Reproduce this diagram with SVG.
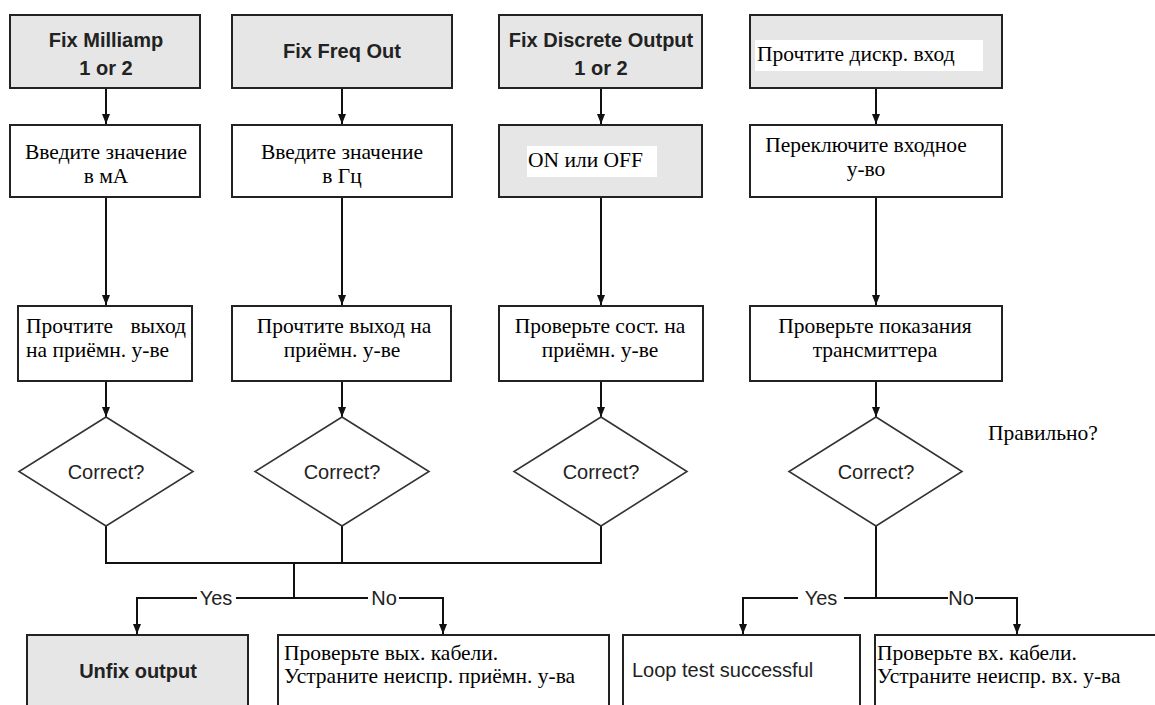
<svg xmlns="http://www.w3.org/2000/svg" width="1155" height="705" viewBox="0 0 1155 705">
<defs>
<style>
.box{fill:#fff;stroke:#222;stroke-width:2}
.gray{fill:#e6e6e6}
.wbg{fill:#fff;stroke:none}
.dia{fill:#fff;stroke:#333;stroke-width:1.6}
.ln{stroke:#111;stroke-width:2;fill:none}
.arr{marker-end:url(#ah)}
.sb{font-family:"Liberation Sans",Arial,sans-serif;font-weight:bold;font-size:20px;fill:#222}
.s{font-family:"Liberation Sans",Arial,sans-serif;font-size:20px;fill:#222}
.t{font-family:"Liberation Serif","Times New Roman",serif;font-size:21.5px;fill:#000}
.c{text-anchor:middle}
</style>
<marker id="ah" viewBox="0 0 10 8" refX="10" refY="4" markerWidth="10" markerHeight="8" markerUnits="userSpaceOnUse" orient="auto">
<path d="M0,0 L10,4 L0,8 z" fill="#111"/>
</marker>
</defs>
<rect width="1155" height="705" fill="#fff"/>

<g id="connectors">
<line class="ln arr" x1="106" y1="88" x2="106" y2="124"/>
<line class="ln arr" x1="342" y1="88" x2="342" y2="124"/>
<line class="ln arr" x1="601" y1="88" x2="601" y2="124"/>
<line class="ln arr" x1="876" y1="88" x2="876" y2="124"/>
<line class="ln arr" x1="106" y1="197" x2="106" y2="305"/>
<line class="ln arr" x1="342" y1="197" x2="342" y2="305"/>
<line class="ln arr" x1="601" y1="197" x2="601" y2="305"/>
<line class="ln arr" x1="876" y1="197" x2="876" y2="305"/>
<line class="ln arr" x1="106" y1="381" x2="106" y2="417"/>
<line class="ln arr" x1="342" y1="381" x2="342" y2="417"/>
<line class="ln arr" x1="601" y1="381" x2="601" y2="417"/>
<line class="ln arr" x1="876" y1="381" x2="876" y2="417"/>
<polyline class="ln" points="106,526 106,563 601,563 601,526"/>
<line class="ln" x1="342" y1="526" x2="342" y2="563"/>
<line class="ln" x1="294" y1="563" x2="294" y2="598"/>
<polyline class="ln arr" points="197,598 137,598 137,634"/>
<line class="ln" x1="236" y1="598" x2="368" y2="598"/>
<polyline class="ln arr" points="399,598 443,598 443,634"/>
<line class="ln" x1="876" y1="526" x2="876" y2="598"/>
<polyline class="ln arr" points="798,598 743,598 743,634"/>
<line class="ln" x1="844" y1="598" x2="948" y2="598"/>
<polyline class="ln arr" points="975,598 1017,598 1017,634"/>
<text class="s c" x="216" y="605">Yes</text>
<text class="s c" x="384" y="605">No</text>
<text class="s c" x="821" y="605">Yes</text>
<text class="s c" x="961" y="605">No</text>
</g>

<g id="n-fix-ma">
<rect class="box gray" x="10" y="15" width="190" height="73"/>
<text class="sb c" x="106" y="47">Fix Milliamp</text>
<text class="sb c" x="106" y="75">1 or 2</text>
</g>
<g id="n-fix-freq">
<rect class="box gray" x="232" y="15" width="220" height="73"/>
<text class="sb c" x="342" y="58">Fix Freq Out</text>
</g>
<g id="n-fix-disc">
<rect class="box gray" x="499" y="15" width="203" height="73"/>
<text class="sb c" x="601" y="47">Fix Discrete Output</text>
<text class="sb c" x="601" y="75">1 or 2</text>
</g>
<g id="n-read-din">
<rect class="box gray" x="750" y="15" width="252" height="73"/>
<rect class="wbg" x="755" y="40" width="228" height="31"/>
<text class="t" x="757" y="61">Прочтите дискр. вход</text>
</g>

<g id="n-enter-ma">
<rect class="box" x="10" y="125" width="190" height="72"/>
<text class="t c" x="106" y="159">Введите значение</text>
<text class="t c" x="106" y="183">в мА</text>
</g>
<g id="n-enter-hz">
<rect class="box" x="232" y="125" width="220" height="72"/>
<text class="t c" x="342" y="159">Введите значение</text>
<text class="t c" x="342" y="183">в Гц</text>
</g>
<g id="n-onoff">
<rect class="box gray" x="499" y="125" width="203" height="72"/>
<rect class="wbg" x="527" y="146" width="130" height="31"/>
<text class="t" x="528" y="167">ON или OFF</text>
</g>
<g id="n-toggle">
<rect class="box" x="750" y="125" width="252" height="72"/>
<text class="t c" x="866" y="152">Переключите входное</text>
<text class="t c" x="866" y="176">у-во</text>
</g>

<g id="n-read-out-ma">
<rect class="box" x="18" y="306" width="174" height="75"/>
<text class="t" x="26" y="333">Прочтите</text>
<text class="t" x="186" y="333" text-anchor="end">выход</text>
<text class="t" x="26" y="357">на приёмн. у-ве</text>
</g>
<g id="n-read-out-hz">
<rect class="box" x="232" y="306" width="219" height="75"/>
<text class="t c" x="344" y="333">Прочтите выход на</text>
<text class="t c" x="342" y="357">приёмн. у-ве</text>
</g>
<g id="n-check-state">
<rect class="box" x="499" y="306" width="204" height="75"/>
<text class="t c" x="600" y="333">Проверьте сост. на</text>
<text class="t c" x="600" y="357">приёмн. у-ве</text>
</g>
<g id="n-check-tx">
<rect class="box" x="750" y="306" width="252" height="75"/>
<text class="t c" x="875" y="333">Проверьте показания</text>
<text class="t c" x="875" y="357">трансмиттера</text>
</g>

<g id="d1">
<polygon class="dia" points="106,417 193,471.5 106,526 19,471.5"/>
<text class="s c" x="106" y="479">Correct?</text>
</g>
<g id="d2">
<polygon class="dia" points="342,417 429,471.5 342,526 255,471.5"/>
<text class="s c" x="342" y="479">Correct?</text>
</g>
<g id="d3">
<polygon class="dia" points="601,417 687,471.5 601,526 514,471.5"/>
<text class="s c" x="601" y="479">Correct?</text>
</g>
<g id="d4">
<polygon class="dia" points="876,417 962,471.5 876,526 789,471.5"/>
<text class="s c" x="876" y="479">Correct?</text>
</g>
<g id="lbl-correct-ru">
<text class="t" x="988" y="440">Правильно?</text>
</g>

<g id="n-unfix">
<rect class="box gray" x="27" y="635" width="221" height="90"/>
<text class="sb c" x="138" y="678">Unfix output</text>
</g>
<g id="n-check-out-cables">
<rect class="box" x="278" y="635" width="331" height="90"/>
<text class="t" x="284" y="660">Проверьте вых. кабели.</text>
<text class="t" x="284" y="683">Устраните неиспр. приёмн. у-ва</text>
</g>
<g id="n-loop-ok">
<rect class="box" x="623" y="635" width="237" height="90"/>
<text class="s" x="632" y="677">Loop test successful</text>
</g>
<g id="n-check-in-cables">
<rect class="box" x="875" y="635" width="300" height="90"/>
<text class="t" x="877" y="660">Проверьте вх. кабели.</text>
<text class="t" x="877" y="683">Устраните неиспр. вх. у-ва</text>
</g>
</svg>
